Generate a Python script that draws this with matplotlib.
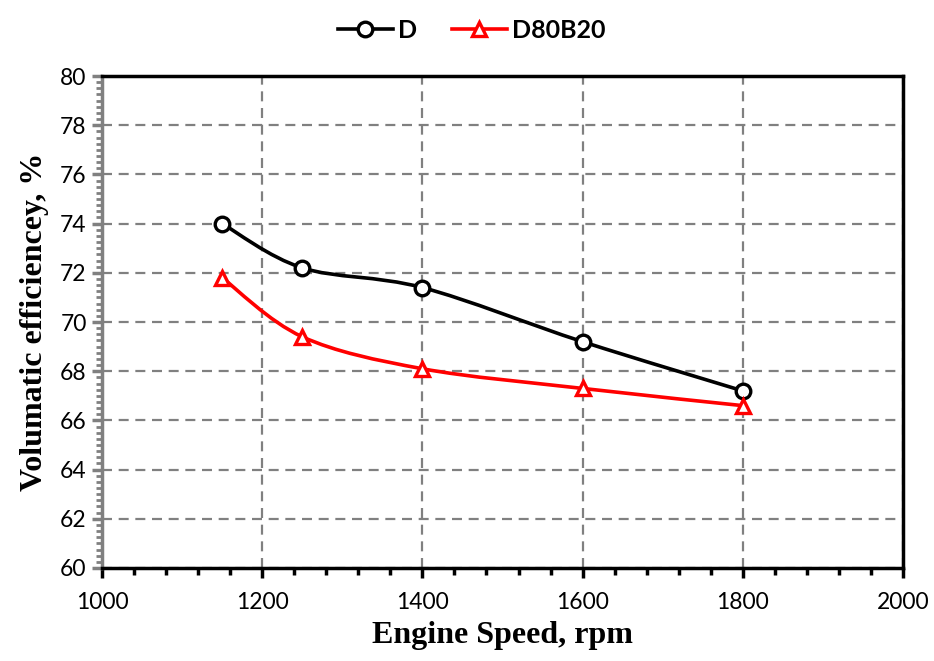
import numpy as np
import matplotlib
matplotlib.use("Agg")
import matplotlib.pyplot as plt
from matplotlib.path import Path
from matplotlib.patches import PathPatch
from matplotlib.lines import Line2D
from matplotlib.ticker import MultipleLocator

# engine speed (rpm) and volumetric efficiency (%)
speed = [1150, 1250, 1400, 1600, 1800]
ve_d = [74.0, 72.2, 71.4, 69.2, 67.2]
ve_d80b20 = [71.8, 69.4, 68.1, 67.3, 66.6]


def smooth_path(x, y):
    # Excel-style smoothed line: cubic Bezier segments (Catmull-Rom control points)
    p = np.column_stack([x, y]).astype(float)
    verts = [p[0]]
    codes = [Path.MOVETO]
    n = len(p)
    for i in range(n - 1):
        p0 = p[i - 1] if i > 0 else p[i]
        p3 = p[i + 2] if i + 2 < n else p[i + 1]
        c1 = p[i] + (p[i + 1] - p0) / 6.0
        c2 = p[i + 1] - (p3 - p[i]) / 6.0
        verts += [c1, c2, p[i + 1]]
        codes += [Path.CURVE4] * 3
    return Path(verts, codes)


fig = plt.figure(figsize=(9.34, 6.61), dpi=100, facecolor="white")
ax = fig.add_axes([0.1092, 0.1407, 0.8576, 0.7443])

series = [
    (ve_d, "black", "o", "D"),
    (ve_d80b20, "#ff0000", "^", "D80B20"),
]
handles = []
for vals, col, mk, lab in series:
    ax.add_patch(PathPatch(smooth_path(speed, vals), facecolor="none",
                           edgecolor=col, lw=2.6, zorder=3))
    ax.plot(speed, vals, ls="none", marker=mk, ms=10.5, mfc="white",
            mec=col, mew=2.4, zorder=4)
    handles.append(Line2D([], [], color=col, lw=2.6, marker=mk, ms=10.5,
                          mfc="white", mec=col, mew=2.4, label=lab))

ax.set_xlim(1000, 2000)
ax.set_ylim(60, 80)
ax.xaxis.set_major_locator(MultipleLocator(200))
ax.xaxis.set_minor_locator(MultipleLocator(40))
ax.yaxis.set_major_locator(MultipleLocator(2))
ax.yaxis.set_minor_locator(MultipleLocator(0.25))

ax.grid(True, which="major", color="#808080", ls=(0, (4.5, 3)), lw=1.6)
ax.set_axisbelow(True)

for s in ["top", "right", "bottom"]:
    ax.spines[s].set_color("black")
    ax.spines[s].set_linewidth(2.5)
ax.spines["left"].set_color("#808080")
ax.spines["left"].set_linewidth(2.5)

ax.tick_params(axis="x", which="major", direction="out", length=7, width=2.5,
               color="black", labelsize=16.5, pad=10)
ax.tick_params(axis="x", which="minor", direction="out", length=5, width=2.5,
               color="black")
ax.tick_params(axis="y", which="major", direction="out", length=7, width=2.5,
               color="#808080", labelsize=16.5, pad=4)
ax.tick_params(axis="y", which="minor", direction="out", length=4, width=2,
               color="#808080")
for t in ax.get_xticklabels() + ax.get_yticklabels():
    t.set_family("Lato")

ax.set_xlabel("Engine Speed, rpm", family="Liberation Serif", weight="bold",
              fontsize=23, labelpad=6)
ax.set_ylabel("Volumatic efficiencey, %", family="Liberation Serif",
              weight="bold", fontsize=23, labelpad=8)

fig.legend(handles=handles, loc="upper center", bbox_to_anchor=(0.505, 1.005),
           ncol=2, frameon=False, handlelength=2.2, handletextpad=0.2,
           columnspacing=1.4, prop={"family": "Lato", "weight": "bold", "size": 18})

fig.savefig("out.png", dpi=100, facecolor="white")
